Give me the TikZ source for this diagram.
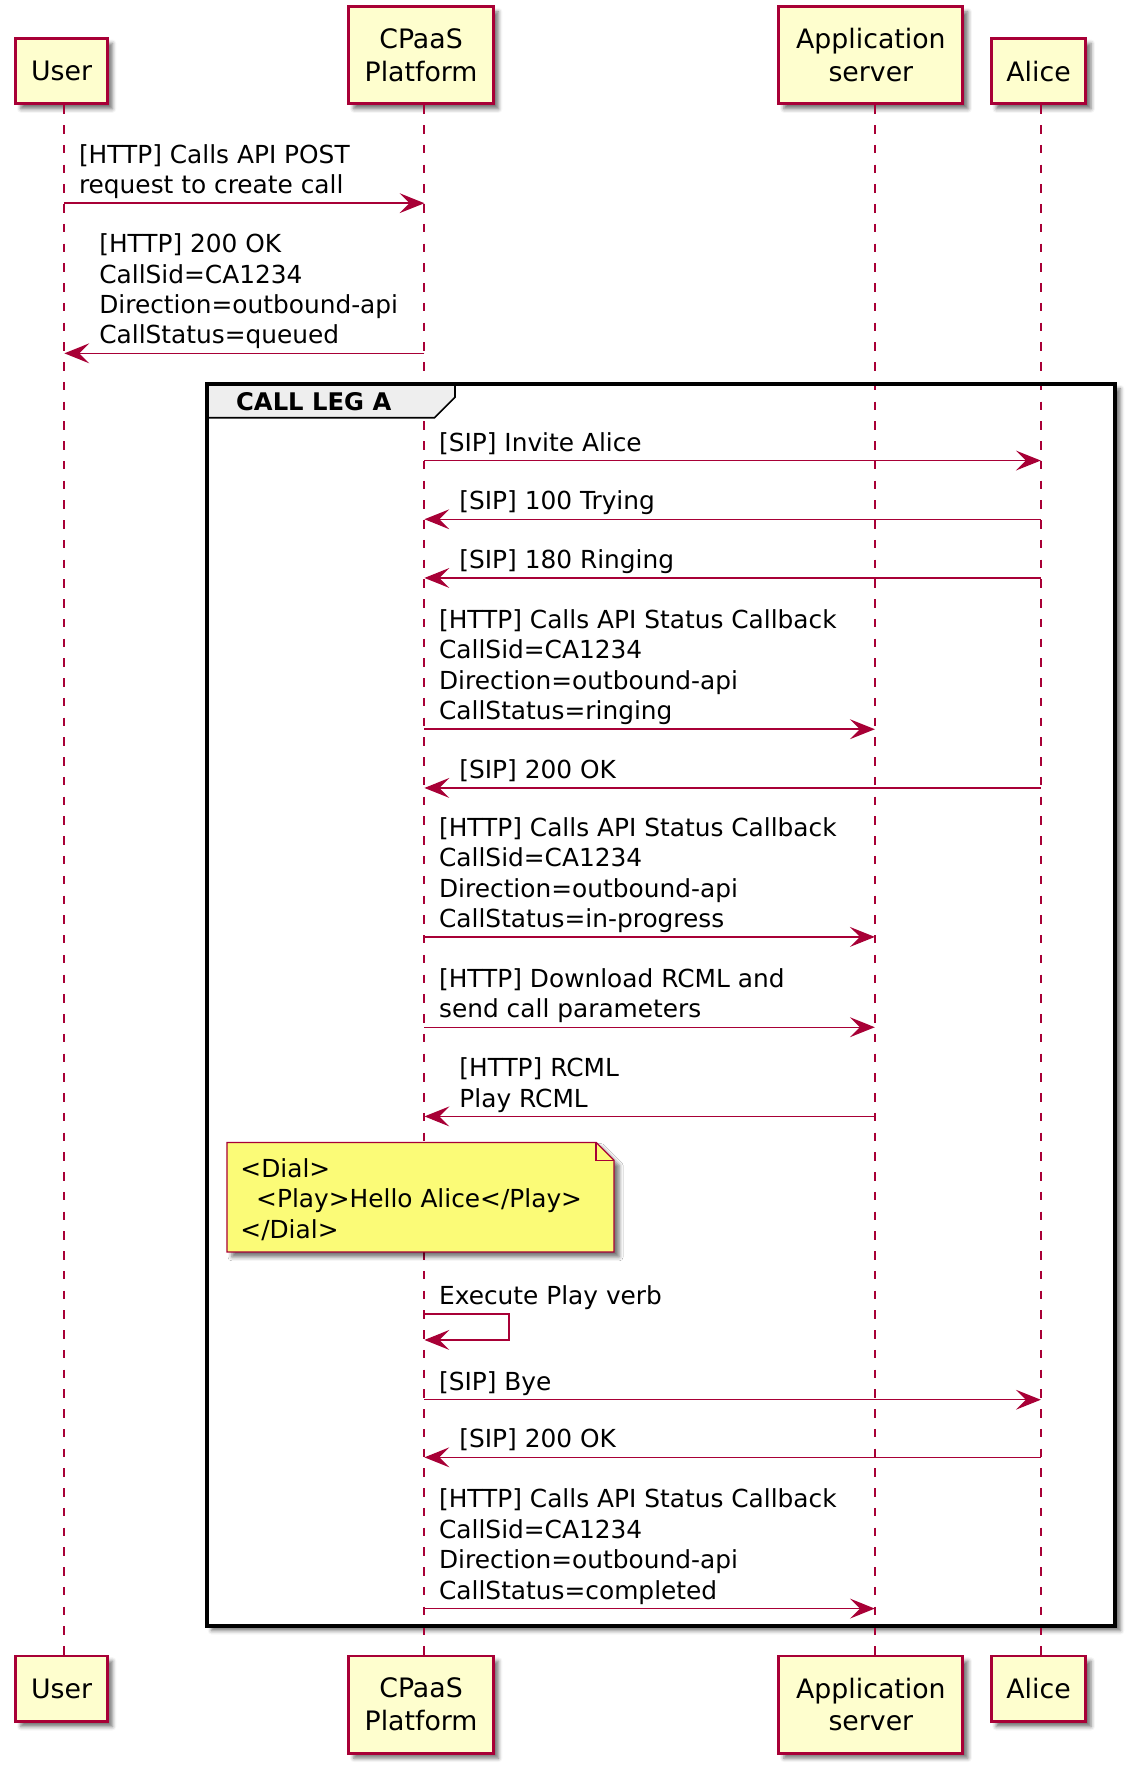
\documentclass[tikz,border=0pt]{standalone}
\usepackage{fontspec}
\setmainfont{DejaVu Sans}
\usetikzlibrary{arrows.meta,shadows.blur}
\definecolor{crim}{HTML}{A80036}
\definecolor{partfill}{HTML}{FEFECE}
\definecolor{notefill}{HTML}{FBFB77}
\definecolor{tabfill}{HTML}{EEEEEE}
\newcommand\msgfont{\fontsize{22}{27}\selectfont}
\newcommand\partfont{\fontsize{23.7}{29}\selectfont}
\newcommand\lastline{\rule[-8.3pt]{0pt}{8.3pt}}

\begin{document}
\begin{tikzpicture}[x=1pt,y=-1pt,
  softshadow/.style={blur shadow={shadow xshift=4.5pt,shadow yshift=-4.5pt,shadow blur radius=3.5pt,shadow opacity=55}},
  part/.style={draw=crim,fill=partfill,line width=2.6pt,font=\partfont,align=center,inner sep=0pt,softshadow},
  life/.style={draw=crim,line width=1.8pt,dash pattern=on 7.5pt off 10pt},
  msg/.style={draw=crim,line width=1.3pt,-{Stealth[length=22pt,width=17.6pt,inset=8.8pt]}},
  lbl/.style={font=\msgfont,align=left,anchor=south west,inner sep=0pt,outer sep=0pt},
]
\useasboundingbox (0,0) rectangle (1004,1568);

% lifeline axes
\coordinate (uL) at (57,0);
\coordinate (cL) at (376,0);
\coordinate (sL) at (775,0);
\coordinate (aL) at (922,0);

% participants, top and bottom
\node[part,minimum width=81pt,minimum height=58pt]  (userT)  at (54.5,63)  {User};
\node[part,minimum width=128pt,minimum height=86pt] (cpaasT) at (373,49)   {CPaaS\\Platform};
\node[part,minimum width=163pt,minimum height=86pt] (appT)   at (771.5,49) {Application\\server};
\node[part,minimum width=84pt,minimum height=58pt]  (aliceT) at (920,63)   {Alice};

\node[part,minimum width=81pt,minimum height=58pt]  (userB)  at (54.5,1496) {User};
\node[part,minimum width=128pt,minimum height=86pt] (cpaasB) at (373,1510)  {CPaaS\\Platform};
\node[part,minimum width=163pt,minimum height=86pt] (appB)   at (771.5,1510){Application\\server};
\node[part,minimum width=84pt,minimum height=58pt]  (aliceB) at (920,1496)  {Alice};

% group frame background with its shadow
\path[fill=white,softshadow] (183,340) rectangle (988,1440);

% lifelines
\draw[life] (userT.south -| uL)  -- (userB.north -| uL);
\draw[life] (cpaasT.south -| cL) -- (cpaasB.north -| cL);
\draw[life] (appT.south -| sL)   -- (appB.north -| sL);
\draw[life] (aliceT.south -| aL) -- (aliceB.north -| aL);

% group frame with its tab
\draw[black,line width=1.5pt,fill=tabfill] (183,340) -- (403,340) -- (403,352) -- (385,370) -- (183,370) -- cycle;
\node[font=\bfseries\fontsize{21.5}{26}\selectfont,anchor=west,inner sep=0pt] (legA) at (209,356) {CALL LEG A};
\draw[black,line width=3.5pt] (183,340) rectangle (988,1440);

% messages
\draw[msg] (uL |- 0,180) -- (cL |- 0,180);
\node[lbl] (m1) at (70,180) {[HTTP] Calls API POST\\request to create call\lastline};

\draw[msg] (cL |- 0,313) -- (uL |- 0,313);
\node[lbl] (m2) at (88,313) {[HTTP] 200 OK\\CallSid=CA1234\\Direction=outbound-api\\CallStatus=queued\lastline};

\draw[msg] (cL |- 0,408) -- (aL |- 0,408);
\node[lbl] (m3) at (389,408) {[SIP] Invite Alice\lastline};

\draw[msg] (aL |- 0,460) -- (cL |- 0,460);
\node[lbl] (m4) at (407,460) {[SIP] 100 Trying\lastline};

\draw[msg] (aL |- 0,512) -- (cL |- 0,512);
\node[lbl] (m5) at (407,512) {[SIP] 180 Ringing\lastline};

\draw[msg] (cL |- 0,646) -- (sL |- 0,646);
\node[lbl] (m6) at (389,646) {[HTTP] Calls API Status Callback\\CallSid=CA1234\\Direction=outbound-api\\CallStatus=ringing\lastline};

\draw[msg] (aL |- 0,698) -- (cL |- 0,698);
\node[lbl] (m7) at (407,698) {[SIP] 200 OK\lastline};

\draw[msg] (cL |- 0,830) -- (sL |- 0,830);
\node[lbl] (m8) at (389,830) {[HTTP] Calls API Status Callback\\CallSid=CA1234\\Direction=outbound-api\\CallStatus=in-progress\lastline};

\draw[msg] (cL |- 0,910) -- (sL |- 0,910);
\node[lbl] (m9) at (389,910) {[HTTP] Download RCML and\\send call parameters\lastline};

\draw[msg] (sL |- 0,989) -- (cL |- 0,989);
\node[lbl] (m10) at (407,989) {[HTTP] RCML\\Play RCML\lastline};

% note
\path[draw=crim,line width=1.1pt,fill=notefill,softshadow] (201,1012) -- (528,1012) -- (544,1028) -- (544,1109) -- (201,1109) -- cycle;
\draw[crim,line width=1.1pt] (528,1012) -- (528,1028) -- (544,1028);
\node[lbl] (noteText) at (213,1105.3) {<Dial>\\\hspace*{14pt}<Play>Hello Alice</Play>\\</Dial>\lastline};

% self message
\draw[msg] (cL |- 0,1164) -- (451,1164) -- (451,1187) -- (cL |- 0,1187);
\node[lbl] (m11) at (389,1164) {Execute Play verb\lastline};

\draw[msg] (cL |- 0,1240) -- (aL |- 0,1240);
\node[lbl] (m12) at (389,1240) {[SIP] Bye\lastline};

\draw[msg] (aL |- 0,1291) -- (cL |- 0,1291);
\node[lbl] (m13) at (407,1291) {[SIP] 200 OK\lastline};

\draw[msg] (cL |- 0,1425) -- (sL |- 0,1425);
\node[lbl] (m14) at (389,1425) {[HTTP] Calls API Status Callback\\CallSid=CA1234\\Direction=outbound-api\\CallStatus=completed\lastline};
\end{tikzpicture}
\end{document}
